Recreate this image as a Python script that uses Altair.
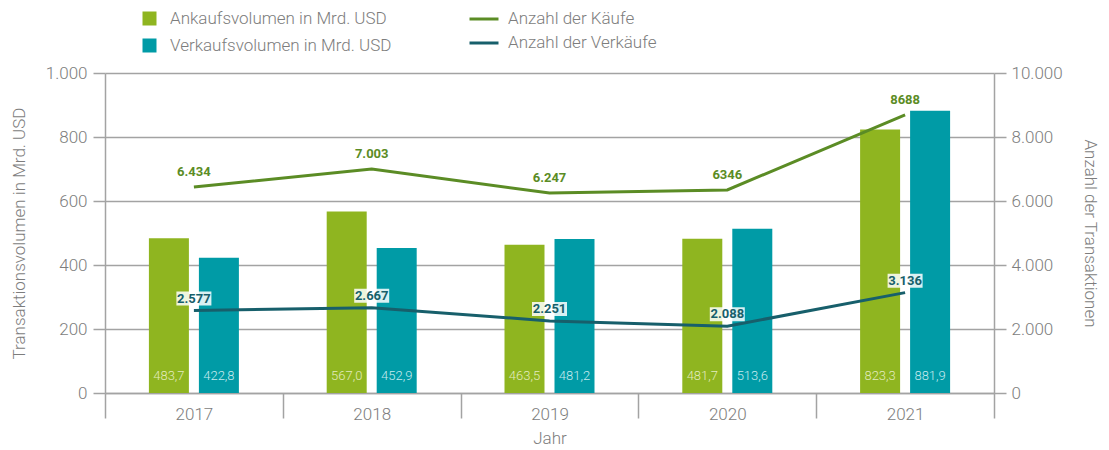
import altair as alt
import pandas as pd

# ---------------- data ----------------
years = ["2017", "2018", "2019", "2020", "2021"]
ankauf = [483.7, 567.0, 463.5, 481.7, 823.3]
verkauf = [422.8, 452.9, 481.2, 513.6, 881.9]
kaeufe = [6434, 7003, 6247, 6346, 8688]
kaeufe_labels = ["6.434", "7.003", "6.247", "6346", "8688"]
verkaeufe = [2577, 2667, 2251, 2088, 3136]
verkaeufe_labels = ["2.577", "2.667", "2.251", "2.088", "3.136"]

bar_series = ["Ankaufsvolumen in Mrd. USD", "Verkaufsvolumen in Mrd. USD"]
line_series = ["Anzahl der Käufe", "Anzahl der Verkäufe"]

# ---------------- tables ----------------
def de(v):
    return f"{v:.1f}".replace(".", ",")

bar_rows = []
for y, a, v in zip(years, ankauf, verkauf):
    bar_rows.append({"year": y, "series": bar_series[0], "value": a, "label": de(a)})
    bar_rows.append({"year": y, "series": bar_series[1], "value": v, "label": de(v)})
bar_df = pd.DataFrame(bar_rows)

line_rows = []
for y, k, kl in zip(years, kaeufe, kaeufe_labels):
    line_rows.append({"year": y, "series": line_series[0], "value": k, "label": kl})
for y, v, vl in zip(years, verkaeufe, verkaeufe_labels):
    line_rows.append({"year": y, "series": line_series[1], "value": v, "label": vl})
line_df = pd.DataFrame(line_rows)

# ---------------- style ----------------
FONT = "Roboto"
GREEN = "#8fb520"
TEAL = "#009ba6"
LGREEN = "#5b8c25"
DTEAL = "#175f6b"
GRAY = "#a3a3a3"
TXT = "#7d7d7d"

x_enc = alt.X(
    "year:N",
    scale=alt.Scale(domain=years, paddingInner=0, paddingOuter=0),
    axis=alt.Axis(
        title="Jahr", labelAngle=0, tickBand="extent", tickSize=25,
        labelPadding=-12, titlePadding=8, grid=False,
    ),
)

bars = alt.Chart(bar_df).mark_bar().encode(
    x=x_enc,
    xOffset=alt.XOffset(
        "series:N",
        scale=alt.Scale(domain=bar_series, paddingInner=0.2, paddingOuter=0.878),
    ),
    y=alt.Y(
        "value:Q",
        scale=alt.Scale(domain=[0, 1000]),
        axis=alt.Axis(
            title="Transaktionsvolumen in Mrd. USD",
            values=[0, 200, 400, 600, 800, 1000],
            labelExpr="replace(datum.label, ',', '.')",
            tickSize=12, labelPadding=6, titlePadding=17, grid=True,
        ),
    ),
    color=alt.Color(
        "series:N",
        scale=alt.Scale(domain=bar_series, range=[GREEN, TEAL]),
        legend=alt.Legend(
            title=None, orient="none", legendX=36, legendY=-63,
            symbolType="square", symbolSize=196, symbolStrokeWidth=0,
            labelOffset=12, rowPadding=9, labelLimit=0,
        ),
    ),
)

bar_text = alt.Chart(bar_df).mark_text(
    font=FONT, fontSize=13, fontWeight=300, baseline="middle", dy=-17
).encode(
    x=x_enc,
    xOffset=alt.XOffset("series:N"),
    y=alt.datum(0),
    text="label:N",
    color=alt.condition(
        f"datum.series == '{bar_series[0]}'", alt.value("#e3ebbf"), alt.value("#c6eaee")
    ),
)

left = alt.layer(bars, bar_text)

y_right = alt.Y(
    "value:Q",
    scale=alt.Scale(domain=[0, 10000]),
    axis=alt.Axis(
        title="Anzahl der Transaktionen", orient="right",
        values=[0, 2000, 4000, 6000, 8000, 10000],
        labelExpr="replace(datum.label, ',', '.')",
        tickSize=12, labelPadding=5, titlePadding=18, grid=False,
    ),
)

lines = alt.Chart(line_df).mark_line(strokeWidth=3).encode(
    x=x_enc,
    y=y_right,
    stroke=alt.Stroke(
        "series:N",
        scale=alt.Scale(domain=line_series, range=[LGREEN, DTEAL]),
        legend=alt.Legend(
            title=None, orient="none", legendX=363, legendY=-70,
            symbolType="stroke", symbolSize=841, symbolStrokeWidth=3,
            labelOffset=8, rowPadding=-3, labelLimit=0,
        ),
    ),
)

boxes = alt.Chart(line_df).transform_filter(
    f"datum.series == '{line_series[1]}'"
).mark_point(
    shape="M-1,-0.4L1,-0.4L1,0.4L-1,0.4Z",
    size=1225, filled=True, fill="white", opacity=0.85, strokeWidth=0, yOffset=-12,
).encode(x=x_enc, y=y_right)

k_text = alt.Chart(line_df).transform_filter(
    f"datum.series == '{line_series[0]}'"
).mark_text(
    font=FONT, fontSize=13, fontWeight="bold", color=LGREEN, baseline="middle", dy=-15
).encode(x=x_enc, y=y_right, text="label:N")

v_text = alt.Chart(line_df).transform_filter(
    f"datum.series == '{line_series[1]}'"
).mark_text(
    font=FONT, fontSize=13, fontWeight="bold", color=DTEAL, baseline="middle", dy=-12
).encode(x=x_enc, y=y_right, text="label:N")

right = alt.layer(lines, boxes, k_text, v_text)

chart = (
    alt.layer(left, right)
    .resolve_scale(y="independent")
    .properties(
        width=889, height=320,
        autosize=alt.AutoSizeParams(type="none"),
        padding={"left": 97, "top": 65, "right": 107, "bottom": 55},
    )
    .configure_view(stroke=None)
    .configure_axis(
        domainColor=GRAY, domainWidth=1.5, tickColor=GRAY, tickWidth=1.5,
        gridColor=GRAY, gridWidth=1.5,
        labelFont=FONT, labelFontSize=17, labelFontWeight=300, labelColor=TXT,
        titleFont=FONT, titleFontSize=17, titleFontWeight=300, titleColor=TXT,
    )
    .configure_legend(
        labelFont=FONT, labelFontSize=17, labelFontWeight=300, labelColor=TXT, padding=0,
    )
)

chart.save("out.html", embed_options={"renderer": "svg", "actions": False})
